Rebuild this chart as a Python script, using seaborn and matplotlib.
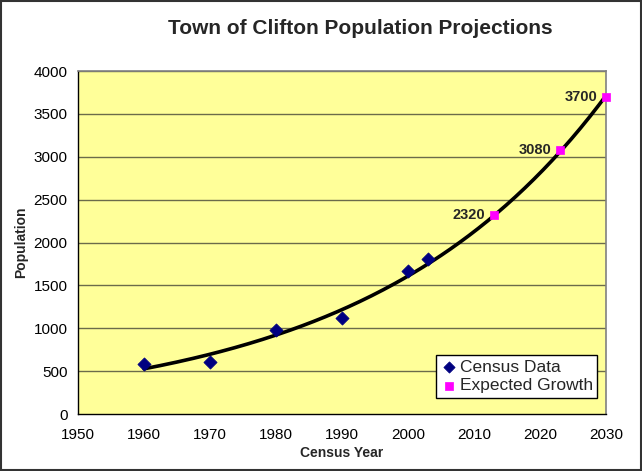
import numpy as np
import pandas as pd
import matplotlib
matplotlib.use('Agg')
import matplotlib.pyplot as plt
import seaborn as sns
from matplotlib.ticker import MultipleLocator

# Census observations
census_years = [1960, 1970, 1980, 1990, 2000, 2003]
census_pop = [580, 610, 975, 1120, 1665, 1805]

# Projected values
growth_years = [2013, 2023, 2030]
growth_pop = [2320, 3080, 3700]
growth_labels = ['2320', '3080', '3700']

sns.set_style('white')
plt.rcParams['font.family'] = ['Liberation Sans', 'DejaVu Sans']

census = pd.DataFrame({'Year': census_years, 'Population': census_pop})
growth = pd.DataFrame({'Year': growth_years, 'Population': growth_pop})

# exponential trendline fitted to census data (like the spreadsheet trendline)
b, a = np.polyfit(census['Year'], np.log(census['Population']), 1)
trend_x = np.linspace(1960, 2030, 200)
trend = pd.DataFrame({'Year': trend_x, 'Population': np.exp(a + b * trend_x)})

fig = plt.figure(figsize=(6.42, 4.71), dpi=100)
fig.patch.set_facecolor('white')
ax = fig.add_axes([0.1215, 0.121, 0.8224, 0.728])
ax.set_facecolor('#FFFF99')

for y in range(500, 4001, 500):
    ax.axhline(y, color='#6B6B4A', linewidth=1.0, zorder=1)

sns.lineplot(data=trend, x='Year', y='Population', color='black',
             linewidth=2.6, ax=ax, zorder=3)
sns.scatterplot(data=census, x='Year', y='Population', marker='D', s=45,
                color='#000080', edgecolor='#000080', ax=ax, zorder=4,
                label='Census Data', clip_on=False)
sns.scatterplot(data=growth, x='Year', y='Population', marker='s', s=40,
                color='#FF00FF', edgecolor='#FF00FF', ax=ax, zorder=4,
                label='Expected Growth', clip_on=False)

for yr, pop, lab in zip(growth_years, growth_pop, growth_labels):
    ax.annotate(lab, (yr, pop), xytext=(-6, 0), textcoords='offset points',
                ha='right', va='center', fontsize=10.5, fontweight='bold')

ax.set_xlim(1950, 2030)
ax.set_ylim(0, 4000)
ax.xaxis.set_major_locator(MultipleLocator(10))
ax.xaxis.set_minor_locator(MultipleLocator(5))
ax.yaxis.set_major_locator(MultipleLocator(500))
ax.tick_params(axis='both', which='both', direction='out', length=4,
               width=1, colors='black', labelsize=11)
ax.tick_params(axis='x', which='minor', length=3)
ax.tick_params(axis='x', pad=6)

for side in ['top', 'right']:
    ax.spines[side].set_color('#808080')
    ax.spines[side].set_linewidth(1.2)
for side in ['left', 'bottom']:
    ax.spines[side].set_color('black')
    ax.spines[side].set_linewidth(1.0)

ax.set_xlabel('Census Year', fontsize=10, fontweight='bold', labelpad=3)
ax.set_ylabel('Population', fontsize=10, fontweight='bold', labelpad=4)
fig.text(0.562, 0.94, 'Town of Clifton Population Projections',
         ha='center', va='center', fontsize=15, fontweight='bold')

leg = ax.legend(loc='lower right', bbox_to_anchor=(0.983, 0.048),
                borderaxespad=0, fontsize=12.5, frameon=True, fancybox=False,
                handletextpad=0.1, borderpad=0.25, labelspacing=0.2,
                handlelength=1.0, markerscale=0.85)
leg.get_frame().set_edgecolor('black')
leg.get_frame().set_linewidth(1.0)
leg.get_frame().set_facecolor('white')
leg.get_frame().set_alpha(1)

fig.patches.append(plt.Rectangle((0.002, 0.002), 0.996, 0.996,
                                 transform=fig.transFigure, fill=False,
                                 edgecolor='#333333', linewidth=1.5))

fig.savefig('out.png', dpi=100)
